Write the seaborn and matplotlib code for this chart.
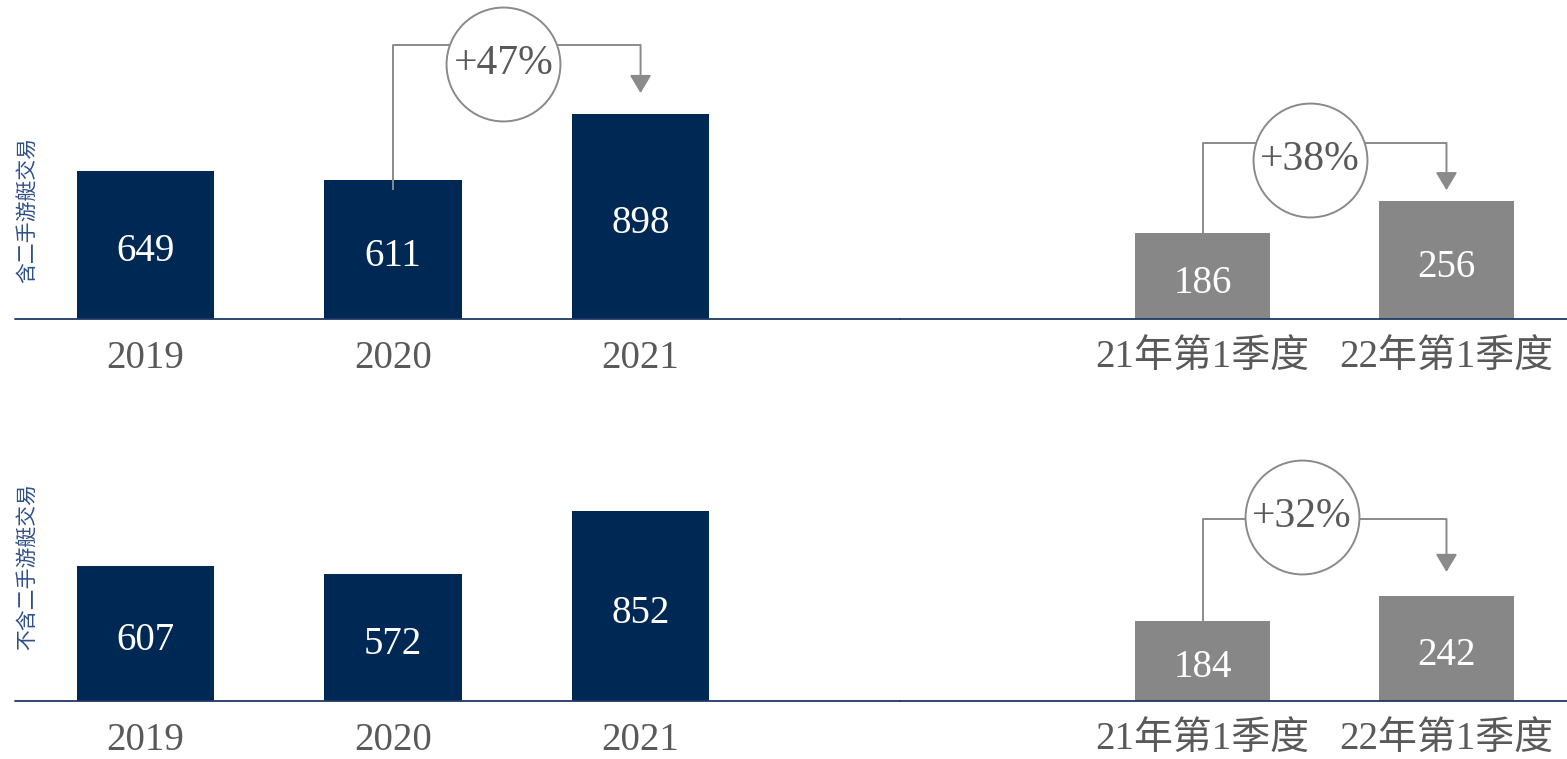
import matplotlib
matplotlib.use("Agg")
import matplotlib.pyplot as plt
import seaborn as sns

# Annual and first-quarter figures, with and without second-hand yacht deals
years = ["2019", "2020", "2021"]
quarters = ["21年第1季度", "22年第1季度"]
incl_annual = [649, 611, 898]
incl_quarter = [186, 256]
excl_annual = [607, 572, 852]
excl_quarter = [184, 242]
row_labels = ["含二手游艇交易", "不含二手游艇交易"]

NAVY = "#002855"
GREY_BAR = "#878787"
GREY_LINE = "#8a8a8a"
TEXT_GREY = "#595959"
AXIS_NAVY = "#1f3864"
LABEL_BLUE = "#2f4f8a"

sns.set_theme(style="white")
plt.rcParams["font.family"] = ["Liberation Serif", "Noto Sans CJK SC"]

W, H = 1567, 759
fig = plt.figure(figsize=(W / 100, H / 100), dpi=100)


def px_axes(x0, x1, y_base, y_top):
    return fig.add_axes([x0 / W, (H - y_base) / H, (x1 - x0) / W, (y_base - y_top) / H])


def draw_bars(ax, cats, vals, color, xlim, ylim, width):
    sns.barplot(x=cats, y=vals, ax=ax, color=color, saturation=1, width=width,
                edgecolor="none", linewidth=0)
    ax.set_xlim(*xlim)
    ax.set_ylim(0, ylim)
    for s in ax.spines.values():
        s.set_visible(False)
    ax.set_yticks([])
    ax.set_ylabel("")
    ax.axhline(0, color=AXIS_NAVY, lw=1.3, zorder=3, clip_on=False)
    ax.tick_params(axis="x", length=0, pad=15, labelsize=28, labelcolor=TEXT_GREY)
    # value labels sit in the middle of each bar
    for i, v in enumerate(vals):
        ax.annotate(str(v), (i, v / 2), xytext=(0, -5), textcoords="offset points",
                    ha="center", va="center", color="white", fontsize=28, zorder=4)
    ax.patch.set_alpha(0)


def growth(ax, x0, x1, y_start, y_line, y_tip, xc, yc, v0, v1):
    ax.plot([x0, x0, x1], [y_start, y_line, y_line], color=GREY_LINE, lw=1.4,
            zorder=4, clip_on=False, solid_capstyle="butt")
    ax.annotate("", xy=(x1, y_tip), xytext=(x1, y_line),
                arrowprops=dict(arrowstyle="-|>,head_length=0.55,head_width=0.33",
                                color=GREY_LINE, lw=1.4, mutation_scale=20,
                                shrinkA=0, shrinkB=0),
                zorder=4, annotation_clip=False)
    ax.plot([xc], [yc], marker="o", ms=82, mfc="white", mec=GREY_LINE, mew=1.4,
            zorder=5, clip_on=False)
    pct = round((v1 / v0 - 1) * 100)
    ax.text(xc, yc, f"+{pct}%", ha="center", va="center", fontsize=30,
            color=TEXT_GREY, zorder=6)


rows = [
    (incl_annual, incl_quarter, 319, 0, 0.228, 0.46),
    (excl_annual, excl_quarter, 701, 400, 0.2225, 0.4345),
]

axes = []
for annual, quarter, y_base, y_top, k_left, k_right in rows:
    h = y_base - y_top
    ax_l = px_axes(15, 900, y_base, y_top)
    draw_bars(ax_l, years, annual, NAVY, (-0.527, 3.048), h / k_left, 0.554)
    ax_r = px_axes(900, 1567, y_base, y_top)
    draw_bars(ax_r, quarters, quarter, GREY_BAR, (-1.24, 1.494), h / k_right, 0.553)
    axes.append((ax_l, ax_r))

(top_l, top_r), (bot_l, bot_r) = axes

growth(top_l, 1, 2, 566, 1202, 991, 1.446, 1120, incl_annual[1], incl_annual[2])
growth(top_r, 0, 1, 172, 383, 280, 0.44, 346, incl_quarter[0], incl_quarter[1])
growth(bot_r, 0, 1, 168, 419, 297, 0.408, 423, excl_quarter[0], excl_quarter[1])

# Vertical row captions
fig.text(27 / W, 1 - 210 / H, row_labels[0], rotation=90, ha="center", va="center",
         fontsize=15, color=LABEL_BLUE, family=["Noto Sans CJK SC"])
fig.text(27 / W, 1 - 567 / H, row_labels[1], rotation=90, ha="center", va="center",
         fontsize=15, color=LABEL_BLUE, family=["Noto Sans CJK SC"])

fig.savefig("out.png", dpi=100)
